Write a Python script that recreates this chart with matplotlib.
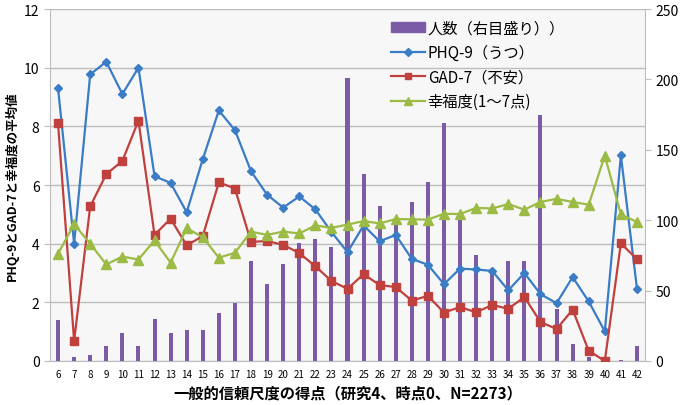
import matplotlib
matplotlib.use("Agg")
import matplotlib.pyplot as plt
from matplotlib.patches import Patch
from matplotlib.lines import Line2D

plt.rcParams['font.family'] = ['Noto Sans CJK JP', 'DejaVu Sans']

# scores of the general trust scale
scores = list(range(6, 43))

# number of people (right axis)
counts = [29, 3, 4, 11, 20, 11, 30, 20, 22, 22, 34, 41, 71, 55, 69, 84, 87, 81, 201,
          133, 110, 100, 113, 127, 169, 104, 75, 65, 71, 71, 175, 37, 12, 3, 0, 1, 11]

phq9 = [9.3, 4.0, 9.77, 10.2, 9.1, 10.0, 6.3, 6.07, 5.07, 6.88, 8.54, 7.87, 6.47,
        5.67, 5.23, 5.61, 5.17, 4.40, 3.71, 4.62, 4.08, 4.30, 3.48, 3.28, 2.62,
        3.15, 3.12, 3.07, 2.41, 3.00, 2.28, 1.97, 2.86, 2.03, 1.01, 7.01, 2.47]

gad7 = [8.1, 0.68, 5.27, 6.37, 6.82, 8.19, 4.30, 4.85, 3.94, 4.26, 6.09, 5.88, 4.06,
        4.09, 3.96, 3.68, 3.23, 2.73, 2.46, 2.96, 2.59, 2.52, 2.06, 2.22, 1.65,
        1.84, 1.66, 1.91, 1.78, 2.18, 1.33, 1.09, 1.75, 0.35, 0.0, 4.01, 3.47]

happy = [3.66, 4.66, 4.00, 3.29, 3.56, 3.46, 4.11, 3.35, 4.53, 4.22, 3.52, 3.69, 4.41,
         4.30, 4.41, 4.35, 4.62, 4.54, 4.65, 4.77, 4.69, 4.84, 4.83, 4.82, 5.02,
         5.01, 5.22, 5.20, 5.35, 5.16, 5.42, 5.53, 5.42, 5.33, 7.00, 5.00, 4.74]

c_bar = '#7B5BA6'
c_phq = '#3A7CC6'
c_gad = '#C0403D'
c_hap = '#9BBB45'
c_grid = '#BDBDBD'

fig = plt.figure(figsize=(6.8, 4.06), dpi=100)
ax = fig.add_axes([50/680, 1-362/406, 595/680, 352/406])
ax.set_facecolor('#F7F7F7')
ax.set_xlim(5.5, 42.5)
ax.set_ylim(0, 12)
ax.set_yticks(range(0, 13, 2))
ax.yaxis.grid(True, color=c_grid, linewidth=1)
ax.set_axisbelow(True)
ax.set_xticks(scores)
ax.tick_params(axis='x', labelsize=7, length=0, pad=6)
ax.tick_params(axis='y', labelsize=10, length=4, color=c_grid)
for s in ['top', 'right']:
    ax.spines[s].set_visible(False)
ax.spines['left'].set_color(c_grid)
ax.spines['bottom'].set_color(c_grid)
ax.set_ylabel('PHQ-9とGAD-7と幸福度の平均値', fontsize=9, fontweight='bold')
ax.set_xlabel('一般的信頼尺度の得点（研究4、時点0、N=2273）', fontsize=11, fontweight='bold', labelpad=4)

# bars on right axis
axb = ax.twinx()
axb.bar(scores, counts, width=0.25, color=c_bar)
axb.set_ylim(0, 250)
axb.set_yticks(range(0, 251, 50))
axb.tick_params(axis='y', labelsize=10, length=4, color=c_grid)
for s in ['top', 'left', 'bottom']:
    axb.spines[s].set_visible(False)
axb.spines['right'].set_color(c_grid)

# lines on top, same scale as left axis
axl = ax.twinx()
axl.set_ylim(0, 12)
axl.axis('off')
lw = 1.6
axl.plot(scores, phq9, color=c_phq, marker='D', markersize=4.5, linewidth=lw)
axl.plot(scores, gad7, color=c_gad, marker='s', markersize=6, linewidth=lw)
axl.plot(scores, happy, color=c_hap, marker='^', markersize=6.5, linewidth=lw)

handles = [Patch(color=c_bar),
           Line2D([], [], color=c_phq, marker='D', markersize=4, linewidth=lw),
           Line2D([], [], color=c_gad, marker='s', markersize=5, linewidth=lw),
           Line2D([], [], color=c_hap, marker='^', markersize=6, linewidth=lw)]
labels = ['人数（右目盛り））', 'PHQ-9（うつ）', 'GAD-7（不安）', '幸福度(1～7点)']
axl.legend(handles, labels, loc='upper left', bbox_to_anchor=(0.55, 1.01),
           frameon=False, fontsize=11, handlelength=2.2, handletextpad=0.2,
           labelspacing=0.5)

fig.savefig('out.png', dpi=100)
